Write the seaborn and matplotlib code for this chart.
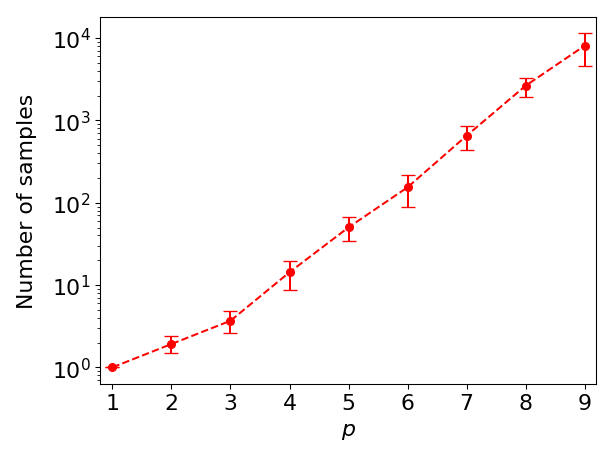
import matplotlib
matplotlib.use("Agg")
import matplotlib.pyplot as plt
import seaborn as sns
import numpy as np
import pandas as pd

p = [1, 2, 3, 4, 5, 6, 7, 8, 9]
samples = [1.0, 1.92, 3.68, 14.3, 50.2, 154, 652, 2640, 8090]
upper = [1.0, 2.38, 4.8, 19.7, 66.5, 219, 862, 3270, 11430]
lower = [1.0, 1.49, 2.62, 8.7, 34, 88, 437, 1940, 4620]

df = pd.DataFrame({"p": p, "samples": samples})

fig, ax = plt.subplots(figsize=(6.4, 4.8), dpi=96)
sns.lineplot(data=df, x="p", y="samples", ax=ax, color="red", linestyle="--",
             marker="o", markersize=6, markeredgecolor="red")
yerr = [np.array(samples) - np.array(lower), np.array(upper) - np.array(samples)]
ax.errorbar(p, samples, yerr=yerr, fmt="none", ecolor="red", capsize=5)
ax.set_yscale("log")
ax.set_xticks(p)
ax.set_xlim(0.79, 9.2)
ax.set_xlabel(r"$p$", fontsize=16.5, labelpad=6)
ax.set_ylabel("Number of samples", fontsize=16.5, labelpad=11)
ax.tick_params(labelsize=16.5)
fig.subplots_adjust(left=100 / 614, right=596 / 614, top=1 - 17.5 / 461, bottom=1 - 385 / 461)
plt.savefig("out.png", dpi=96)
